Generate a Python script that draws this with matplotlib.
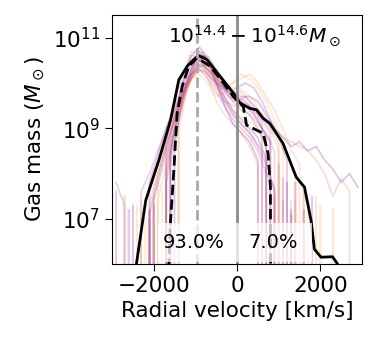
import numpy as np
import matplotlib
matplotlib.use('Agg')
import matplotlib.pyplot as plt

# velocity bin centres for the individual cluster traces [km/s]
vbins_a = [-2900, -2700, -2500, -2300, -2100, -1900, -1700, -1500, -1300, -1100,
           -900, -700, -500, -300, -100, 100, 300, 500, 700, 900,
           1100, 1300, 1500, 1700, 1900, 2100, 2300, 2500, 2700, 2900]
vbins_b = [-2800, -2600, -2400, -2200, -2000, -1800, -1600, -1400, -1200, -1000,
           -800, -600, -400, -200, 0, 200, 400, 600, 800, 1000,
           1200, 1400, 1600, 1800, 2000, 2200, 2400, 2600, 2800]

# log10 gas mass per bin for each cluster (0 = empty bin)
traces_a = [
    [0, 0, 0, 0, 7.2, 0, 8.3, 9.3, 10.0, 10.4, 10.5, 10.3, 10.0, 9.7, 9.4, 9.2, 9.0, 8.8, 8.3, 7.6, 0, 7.1, 0, 0, 0, 0, 0, 0, 0, 0],
    [0, 0, 0, 0, 0, 0, 8.8, 9.6, 10.2, 10.6, 10.6, 10.2, 9.9, 9.6, 9.5, 9.5, 9.3, 9.0, 8.6, 0, 7.4, 0, 0, 0, 0, 0, 0, 0, 0, 0],
    [7.6, 0, 7.3, 0, 7.8, 8.4, 9.0, 9.5, 9.9, 10.2, 10.3, 10.2, 10.0, 9.9, 9.8, 9.7, 9.7, 9.6, 9.3, 9.0, 8.8, 8.6, 8.7, 8.5, 8.6, 8.3, 8.1, 7.8, 8.0, 7.7],
    [0, 0, 0, 0, 0, 0, 8.0, 9.2, 10.1, 10.7, 10.6, 10.1, 9.6, 9.3, 9.1, 8.9, 8.6, 8.2, 0, 7.5, 0, 0, 0, 0, 0, 0, 0, 0, 0, 0],
    [0, 0, 0, 0, 7.1, 7.9, 8.6, 9.2, 9.8, 10.2, 10.5, 10.6, 10.3, 9.9, 9.6, 9.6, 9.5, 9.2, 8.8, 0, 7.9, 0, 0, 0, 0, 0, 0, 0, 0, 0],
    [0, 0, 0, 7.4, 0, 7.9, 8.7, 9.4, 9.8, 10.1, 10.2, 10.0, 9.7, 9.8, 10.0, 10.2, 10.1, 9.9, 9.6, 9.2, 8.6, 0, 0, 7.3, 0, 0, 0, 0, 0, 0],
    [0, 0, 0, 0, 0, 0, 0, 8.6, 9.7, 10.3, 10.7, 10.5, 10.0, 9.5, 9.1, 8.9, 8.7, 8.3, 0, 0, 0, 0, 0, 0, 0, 0, 0, 0, 0, 0],
    [0, 0, 0, 0, 7.0, 0, 8.1, 9.0, 9.7, 10.1, 10.4, 10.4, 10.1, 9.8, 9.6, 9.4, 9.3, 9.1, 8.9, 8.5, 0, 7.4, 0, 0, 0, 0, 0, 0, 0, 0],
    [7.8, 7.3, 0, 7.6, 8.0, 8.5, 9.0, 9.4, 9.8, 10.1, 10.3, 10.1, 9.8, 9.5, 9.2, 9.0, 8.8, 8.5, 8.0, 7.7, 0, 7.2, 0, 0, 0, 0, 0, 0, 0, 0],
    [0, 0, 0, 0, 0, 0, 7.8, 9.0, 10.0, 10.6, 10.8, 10.5, 10.0, 9.6, 9.3, 9.1, 8.9, 8.6, 8.2, 0, 0, 0, 0, 0, 0, 0, 0, 0, 0, 0],
    [0, 0, 0, 0, 0, 7.4, 8.2, 9.1, 9.7, 10.2, 10.4, 10.2, 9.9, 9.9, 10.0, 10.1, 10.2, 10.0, 9.7, 9.4, 9.0, 8.5, 8.2, 0, 7.5, 0, 7.2, 0, 0, 0],
    [0, 7.5, 0, 0, 7.3, 8.0, 8.7, 9.3, 9.8, 10.2, 10.4, 10.3, 10.1, 9.9, 9.8, 9.8, 9.6, 9.4, 9.2, 9.0, 8.8, 8.7, 8.6, 8.5, 8.3, 8.0, 7.5, 7.9, 7.6, 0],
]
traces_b = [
    [0, 0, 0, 0, 7.3, 0, 8.4, 9.4, 10.1, 10.5, 10.6, 10.3, 10.0, 9.8, 9.6, 9.5, 9.3, 9.0, 8.7, 0, 7.8, 0, 7.2, 0, 0, 0, 0, 0, 0],
    [0, 0, 0, 7.0, 0, 7.6, 0, 8.9, 9.8, 10.4, 10.5, 10.2, 9.8, 9.5, 9.3, 9.2, 9.1, 8.8, 8.3, 0, 0, 7.4, 0, 0, 0, 0, 0, 0, 0],
    [0, 0, 0, 0, 0, 0, 8.6, 9.3, 10.0, 10.5, 10.7, 10.4, 10.0, 9.7, 9.6, 9.7, 9.5, 9.1, 0, 8.2, 0, 0, 0, 0, 0, 0, 0, 0, 0],
    [0, 7.2, 0, 0, 7.4, 8.1, 8.9, 9.5, 9.9, 10.3, 10.4, 10.2, 9.9, 9.8, 9.9, 10.0, 9.9, 9.6, 9.2, 8.8, 8.3, 0, 0, 7.5, 0, 0, 0, 0, 0],
    [0, 0, 0, 0, 0, 0, 0, 9.1, 9.9, 10.5, 10.6, 10.3, 9.9, 9.5, 9.2, 9.0, 8.8, 8.5, 0, 0, 0, 0, 0, 0, 0, 0, 0, 0, 0],
    [0, 0, 7.3, 0, 7.7, 8.3, 9.0, 9.5, 9.9, 10.2, 10.3, 10.2, 10.0, 9.9, 9.9, 9.8, 9.6, 9.3, 9.0, 8.5, 0, 8.0, 7.6, 0, 7.3, 0, 0, 0, 0],
    [0, 0, 0, 0, 0, 0, 8.2, 9.2, 9.9, 10.4, 10.6, 10.4, 10.1, 9.9, 9.7, 9.6, 9.4, 9.2, 8.9, 0, 0, 7.8, 0, 0, 0, 0, 0, 0, 0],
    [0, 0, 0, 0, 7.5, 0, 8.5, 9.3, 9.9, 10.3, 10.5, 10.3, 10.1, 9.9, 9.7, 9.5, 9.4, 9.3, 9.0, 8.7, 0, 0, 7.6, 0, 0, 0, 0, 0, 0],
]

# stacked total (solid) and median (dashed) profiles, log10 mass
v_total = [-2430, -2190, -1873, -1595, -1397, -1198, -1040, -921, -722, -405, -88, 71,
           310, 469, 627, 786, 1103, 1421, 1619, 1778, 1857, 2016, 2294, 2413, 2450]
m_total = [5.9, 7.41, 8.30, 9.18, 10.07, 10.37, 10.52, 10.61, 10.52, 10.15, 9.78, 9.56,
           9.44, 9.41, 9.22, 9.11, 8.67, 7.92, 7.70, 6.96, 6.33, 6.15, 6.16, 6.0, 5.8]
v_med = [-1640, -1595, -1516, -1437, -1317, -1159, -960, -643, -326, -88, 150, 230,
         469, 627, 746, 802, 805]
m_med = [5.9, 6.96, 8.07, 9.33, 9.92, 10.37, 10.56, 10.37, 10.0, 9.70, 9.48, 9.07,
         8.96, 8.89, 8.44, 7.70, 5.9]

v_peak = -950
frac_in = '93.0%'
frac_out = '7.0%'

fig = plt.figure(figsize=(3.78, 3.47), dpi=100)
ax = fig.add_axes([0.2963, 0.2392, 0.6614, 0.7176])

all_traces = [(vbins_a, t) for t in traces_a] + [(vbins_b, t) for t in traces_b]
colors = plt.cm.plasma(np.linspace(0.1, 0.85, len(all_traces)))
order = [0, 10, 3, 15, 6, 18, 1, 12, 8, 4, 16, 13, 2, 19, 9, 5, 11, 17, 7, 14]
for k, (vb, tr) in enumerate(all_traces):
    tr = np.array(tr)
    mass = np.where(tr > 0, 10.0**tr, 0.0)
    ax.plot(vb, mass, color=colors[order[k]], alpha=0.22, lw=1.3)

ax.plot(v_total, 10.0**np.array(m_total), color='k', lw=2)
ax.plot(v_med, 10.0**np.array(m_med), color='k', lw=2, ls='--')

ax.axvline(0, color='grey', lw=2, alpha=0.9)
ax.axvline(v_peak, color='#aaaaaa', lw=2, ls='--')

ax.set_yscale('log')
ax.set_xlim(-3000, 3000)
ax.set_ylim(1e6, 3.2e11)
ax.set_yticks([1e7, 1e9, 1e11])
ax.minorticks_off()

# white band behind the percentages
ax.axvspan(-1900, 1800, ymin=0.008, ymax=0.165, color='white', alpha=0.75, lw=0, zorder=5)
ax.text(-1050, 3e6, frac_in, ha='center', va='center', fontsize=14, zorder=6)
ax.text(860, 3e6, frac_out, ha='center', va='center', fontsize=14, zorder=6)

ax.text(0.57, 0.965, r'$10^{14.4}-10^{14.6}M_\odot$', transform=ax.transAxes,
        ha='center', va='top', fontsize=14.5)

ax.set_xlabel('Radial velocity [km/s]', fontsize=15.5)
ax.set_ylabel(r'Gas mass ($M_\odot$)', fontsize=15.5)
ax.tick_params(labelsize=15.5, length=5)

fig.savefig('out.png', dpi=100)
